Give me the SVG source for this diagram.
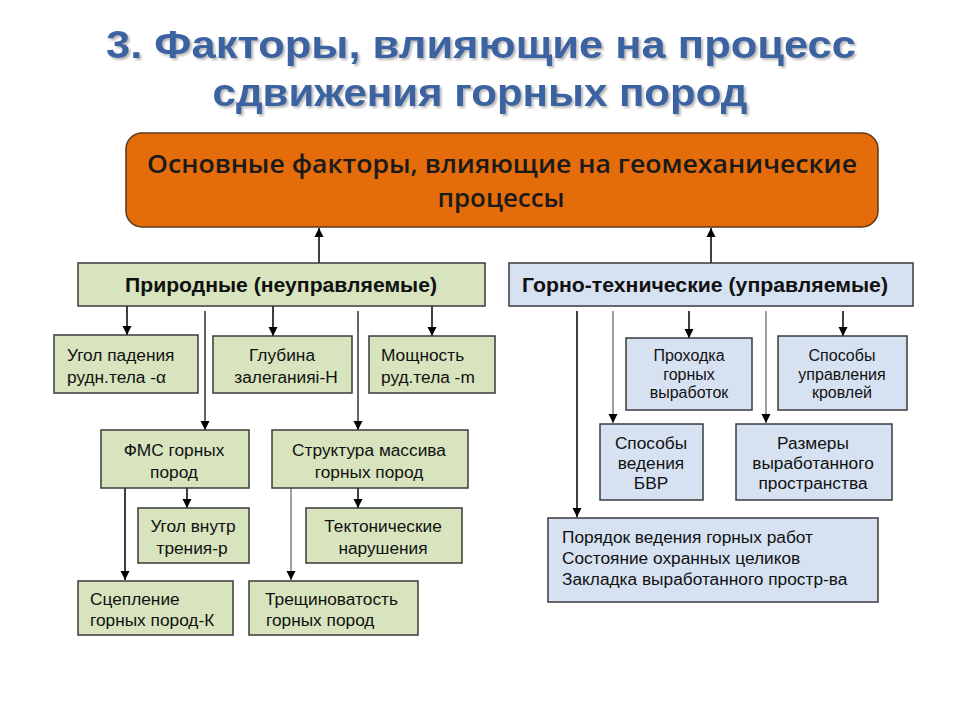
<svg xmlns="http://www.w3.org/2000/svg" width="960" height="720" viewBox="0 0 960 720">
<defs>
<marker id="ah" viewBox="0 0 10 10" refX="10" refY="5" markerWidth="9" markerHeight="10" markerUnits="userSpaceOnUse" orient="auto">
<path d="M0,0 L10,5 L0,10 z" fill="#000"/>
</marker>
<filter id="sh" x="-5%" y="-20%" width="110%" height="140%">
<feDropShadow dx="2" dy="2" stdDeviation="1" flood-color="#9a9a9a" flood-opacity="0.7"/>
</filter>
<style>
.title{font-family:"Liberation Sans",Arial,sans-serif;font-weight:bold;font-size:38px;fill:#3A63A1;text-anchor:middle}
.main{font-family:"Open Sans","Liberation Sans",sans-serif;font-weight:600;font-size:26px;fill:#1a1a1a;text-anchor:middle}
.hdr{font-family:"Liberation Sans",Arial,sans-serif;font-weight:bold;font-size:20px;fill:#111;text-anchor:middle}
.t{font-family:"Liberation Sans",Arial,sans-serif;font-size:17.3px;fill:#111}
.s{font-size:16px}
.c{text-anchor:middle}
.g{fill:#D7E4BD;stroke:#3a3a3a;stroke-width:1.5}
.b{fill:#D6E2F2;stroke:#3a3a3a;stroke-width:1.5}
.ln{fill:none;stroke:#000;stroke-width:1.5;marker-end:url(#ah)}
.lg{fill:none;stroke:#7f7f7f;stroke-width:1.5;marker-end:url(#ah)}
</style>
</defs>
<rect width="960" height="720" fill="#fff"/>
<g id="title" filter="url(#sh)">
<text class="title" x="481" y="58" textLength="750" lengthAdjust="spacingAndGlyphs">3. Факторы, влияющие  на процесс</text>
<text class="title" x="480" y="106" textLength="535" lengthAdjust="spacingAndGlyphs">сдвижения горных пород</text>
</g>
<g id="connectors">
<path class="ln" d="M319,263 V228"/>
<path class="ln" d="M711,263 V228"/>
<path class="ln" d="M127,306 V335"/>
<path class="ln" d="M273,306 V336"/>
<path class="ln" d="M432,306 V336"/>
<path class="ln" d="M205,311 V430" style="stroke:#333"/>
<path class="ln" d="M358,311 V430" style="stroke:#333"/>
<path class="ln" d="M187,488 V508"/>
<path class="ln" d="M358,488 V508"/>
<path class="ln" d="M125,488 V580"/>
<path class="lg" d="M291,488 V580"/>
<path class="ln" d="M577,311 V517"/>
<path class="lg" d="M613,311 V423"/>
<path class="ln" d="M689,311 V338"/>
<path class="lg" d="M766,311 V423"/>
<path class="ln" d="M843,311 V336"/>
</g>
<g id="main">
<rect x="126" y="133" width="752" height="94" rx="16" fill="#E46C0A" stroke="#5a3a1a" stroke-width="1.5"/>
<text class="main" x="502" y="173" textLength="710" lengthAdjust="spacingAndGlyphs">Основные факторы, влияющие на геомеханические</text>
<text class="main" x="501" y="207" textLength="127" lengthAdjust="spacingAndGlyphs">процессы</text>
</g>
<g id="natural">
<rect class="g" x="78" y="263" width="407" height="43"/>
<text class="hdr" x="281" y="292" textLength="312" lengthAdjust="spacingAndGlyphs">Природные (неуправляемые)</text>
</g>
<g id="technical">
<rect class="b" x="509" y="263" width="404" height="43"/>
<text class="hdr" x="705" y="292" textLength="366" lengthAdjust="spacingAndGlyphs">Горно-технические (управляемые)</text>
</g>
<g id="n-angle">
<rect class="g" x="54" y="335" width="144" height="58"/>
<text class="t" x="67" y="361">Угол падения</text>
<text class="t" x="67" y="383">рудн.тела  -α</text>
</g>
<g id="n-depth">
<rect class="g" x="213" y="336" width="139" height="57"/>
<text class="t c" x="282" y="361">Глубина</text>
<text class="t c" x="286" y="383">залеганияі-Н</text>
</g>
<g id="n-thickness">
<rect class="g" x="369" y="336" width="126" height="57"/>
<text class="t" x="381" y="361">Мощность</text>
<text class="t" x="381" y="383">руд.тела -m</text>
</g>
<g id="n-fms">
<rect class="g" x="101" y="430" width="148" height="58"/>
<text class="t c" x="174" y="456">ФМС горных</text>
<text class="t c" x="174" y="478">пород</text>
</g>
<g id="n-structure">
<rect class="g" x="272" y="430" width="196" height="58"/>
<text class="t c" x="369" y="456">Структура массива</text>
<text class="t c" x="369" y="478">горных пород</text>
</g>
<g id="n-friction">
<rect class="g" x="138" y="508" width="111" height="55"/>
<text class="t c" x="193" y="532">Угол внутр</text>
<text class="t c" x="192" y="554">трения-р</text>
</g>
<g id="n-tectonic">
<rect class="g" x="306" y="508" width="156" height="55"/>
<text class="t c" x="383" y="532">Тектонические</text>
<text class="t c" x="383" y="554">нарушения</text>
</g>
<g id="n-cohesion">
<rect class="g" x="78" y="581" width="155" height="54"/>
<text class="t" x="90" y="605">Сцепление</text>
<text class="t" x="90" y="626">горных пород-К</text>
</g>
<g id="n-fracture">
<rect class="g" x="249" y="581" width="169" height="54"/>
<text class="t" x="265" y="605">Трещиноватость</text>
<text class="t" x="266" y="626">горных пород</text>
</g>
<g id="t-drifting">
<rect class="b" x="626" y="338" width="126" height="72"/>
<text class="t s c" x="689" y="361">Проходка</text>
<text class="t s c" x="689" y="379.5">горных</text>
<text class="t s c" x="689" y="398">выработок</text>
</g>
<g id="t-roof">
<rect class="b" x="778" y="336" width="129" height="74"/>
<text class="t s c" x="842" y="361">Способы</text>
<text class="t s c" x="842" y="379.5">управления</text>
<text class="t s c" x="842" y="398">кровлей</text>
</g>
<g id="t-blasting">
<rect class="b" x="600" y="424" width="103" height="76"/>
<text class="t c" x="651" y="449">Способы</text>
<text class="t c" x="651" y="469">ведения</text>
<text class="t c" x="651" y="489">БВР</text>
</g>
<g id="t-size">
<rect class="b" x="736" y="424" width="156" height="76"/>
<text class="t c" x="813" y="449">Размеры</text>
<text class="t c" x="813" y="469">выработанного</text>
<text class="t c" x="813" y="489">пространства</text>
</g>
<g id="t-order">
<rect class="b" x="548" y="518" width="330" height="84"/>
<text class="t" x="562" y="543">Порядок ведения горных работ</text>
<text class="t" x="562" y="564">Состояние  охранных целиков</text>
<text class="t" x="562" y="585">Закладка выработанного простр-ва</text>
</g>
</svg>
